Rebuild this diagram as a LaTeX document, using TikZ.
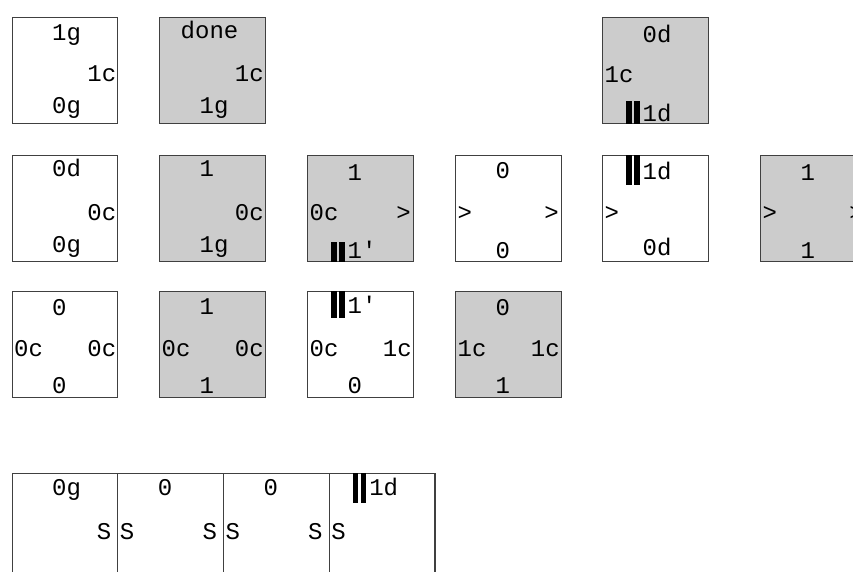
\documentclass[tikz,border=0pt]{standalone}
\usepackage{fontspec}
\setmonofont{Liberation Mono}
\begin{document}
\begin{tikzpicture}[x=1pt,y=-1pt,
  tile/.style={draw=black!75, line width=1.2pt, fill=white, minimum width=105.7pt, minimum height=105.7pt, inner sep=0pt, anchor=north west},
  gtile/.style={tile, fill=black!20},
  tall/.style={minimum height=130pt},
  lab/.style={font=\ttfamily\fontsize{24}{24}\selectfont, inner sep=0pt, text=black},
  barfill/.style={fill=black}]
\useasboundingbox (0,0) rectangle (853,572);
% row 1
\node[tile]  (r1a) at (11.5,17) {};
\node[gtile] (r1b) at (159,17) {};
\node[gtile] (r1c) at (602,17) {};
% row 2
\node[tile]  (r2a) at (11.5,155) {};
\node[gtile] (r2b) at (159,155) {};
\node[gtile] (r2c) at (307,155) {};
\node[tile]  (r2d) at (455,155) {};
\node[tile]  (r2e) at (602,155) {};
\node[gtile] (r2f) at (760,155) {};
% row 3
\node[tile]  (r3a) at (11.5,291) {};
\node[gtile] (r3b) at (159,291) {};
\node[tile]  (r3c) at (307,291) {};
\node[gtile] (r3d) at (455,291) {};
% row 4
\node[tile,tall] (r4a) at (11.5,473) {};
\node[tile,tall] (r4b) at (117.2,473) {};
\node[tile,tall] (r4c) at (222.9,473) {};
\node[tile,tall] (r4d) at (328.6,473) {};

% ---- labels row 1
\node[lab,anchor=base west] (r1at) at ([shift={(40.5,24)}]r1a.north west) {1g};
\node[lab,anchor=base east] (r1ar) at ([shift={(-2,65)}]r1a.north east) {1c};
\node[lab,anchor=base west] (r1ab) at ([shift={(40.5,97)}]r1a.north west) {0g};
\node[lab,anchor=base west] (r1bt) at ([shift={(21.5,22)}]r1b.north west) {done};
\node[lab,anchor=base east] (r1br) at ([shift={(-2,65)}]r1b.north east) {1c};
\node[lab,anchor=base west] (r1bb) at ([shift={(40.5,97)}]r1b.north west) {1g};
\node[lab,anchor=base west] (r1ct) at ([shift={(40.5,25.5)}]r1c.north west) {0d};
\node[lab,anchor=base west] (r1cl) at ([shift={(2.5,65.5)}]r1c.north west) {1c};
\node[lab,anchor=base west] (r1cb) at ([shift={(40.5,104.5)}]r1c.north west) {1d};
\fill[barfill] ([shift={(24,0)}]r1c.south west) rectangle ([shift={(29.5,-23)}]r1c.south west);
\fill[barfill] ([shift={(32,0)}]r1c.south west) rectangle ([shift={(37.5,-23)}]r1c.south west);

% ---- labels row 2
\node[lab,anchor=base west] (r2at) at ([shift={(40.5,22)}]r2a.north west) {0d};
\node[lab,anchor=base east] (r2ar) at ([shift={(-2,65)}]r2a.north east) {0c};
\node[lab,anchor=base west] (r2ab) at ([shift={(40.5,97)}]r2a.north west) {0g};
\node[lab,anchor=base west] (r2bt) at ([shift={(40.5,22)}]r2b.north west) {1};
\node[lab,anchor=base east] (r2br) at ([shift={(-2,65)}]r2b.north east) {0c};
\node[lab,anchor=base west] (r2bb) at ([shift={(40.5,97)}]r2b.north west) {1g};
\node[lab,anchor=base west] (r2ct) at ([shift={(40.5,25.5)}]r2c.north west) {1};
\node[lab,anchor=base west] (r2cl) at ([shift={(2.5,65)}]r2c.north west) {0c};
\node[lab,anchor=base east] (r2cr) at ([shift={(-3,65)}]r2c.north east) {>};
\node[lab,anchor=base west] (r2cb) at ([shift={(40.5,103)}]r2c.north west) {1'};
\fill[barfill] ([shift={(24,0)}]r2c.south west) rectangle ([shift={(29.5,-20)}]r2c.south west);
\fill[barfill] ([shift={(32,0)}]r2c.south west) rectangle ([shift={(37.5,-20)}]r2c.south west);
\node[lab,anchor=base west] (r2dt) at ([shift={(40.5,23.5)}]r2d.north west) {0};
\node[lab,anchor=base west] (r2dl) at ([shift={(2.5,65)}]r2d.north west) {>};
\node[lab,anchor=base east] (r2dr) at ([shift={(-3,65)}]r2d.north east) {>};
\node[lab,anchor=base west] (r2db) at ([shift={(40.5,103)}]r2d.north west) {0};
\node[lab,anchor=base west] (r2et) at ([shift={(40.5,24.5)}]r2e.north west) {1d};
\fill[barfill] ([shift={(24,0)}]r2e.north west) rectangle ([shift={(29.5,30)}]r2e.north west);
\fill[barfill] ([shift={(32,0)}]r2e.north west) rectangle ([shift={(37.5,30)}]r2e.north west);
\node[lab,anchor=base west] (r2el) at ([shift={(2.5,65)}]r2e.north west) {>};
\node[lab,anchor=base west] (r2eb) at ([shift={(40.5,100)}]r2e.north west) {0d};
\node[lab,anchor=base west] (r2ft) at ([shift={(40.5,26)}]r2f.north west) {1};
\node[lab,anchor=base west] (r2fl) at ([shift={(2.5,65)}]r2f.north west) {>};
\node[lab,anchor=base east] (r2fr) at ([shift={(-3,65)}]r2f.north east) {>};
\node[lab,anchor=base west] (r2fb) at ([shift={(40.5,103)}]r2f.north west) {1};

% ---- labels row 3
\node[lab,anchor=base west] (r3at) at ([shift={(40.5,24)}]r3a.north west) {0};
\node[lab,anchor=base west] (r3al) at ([shift={(2.5,65)}]r3a.north west) {0c};
\node[lab,anchor=base east] (r3ar) at ([shift={(-2,65)}]r3a.north east) {0c};
\node[lab,anchor=base west] (r3ab) at ([shift={(40.5,102)}]r3a.north west) {0};
\node[lab,anchor=base west] (r3bt) at ([shift={(40.5,23)}]r3b.north west) {1};
\node[lab,anchor=base west] (r3bl) at ([shift={(2.5,65)}]r3b.north west) {0c};
\node[lab,anchor=base east] (r3br) at ([shift={(-2,65)}]r3b.north east) {0c};
\node[lab,anchor=base west] (r3bb) at ([shift={(40.5,102)}]r3b.north west) {1};
\node[lab,anchor=base west] (r3ct) at ([shift={(40.5,22)}]r3c.north west) {1'};
\fill[barfill] ([shift={(24,0)}]r3c.north west) rectangle ([shift={(29.5,27)}]r3c.north west);
\fill[barfill] ([shift={(32,0)}]r3c.north west) rectangle ([shift={(37.5,27)}]r3c.north west);
\node[lab,anchor=base west] (r3cl) at ([shift={(2.5,65)}]r3c.north west) {0c};
\node[lab,anchor=base east] (r3cr) at ([shift={(-2,65)}]r3c.north east) {1c};
\node[lab,anchor=base west] (r3cb) at ([shift={(40.5,102)}]r3c.north west) {0};
\node[lab,anchor=base west] (r3dt) at ([shift={(40.5,24)}]r3d.north west) {0};
\node[lab,anchor=base west] (r3dl) at ([shift={(2.5,65)}]r3d.north west) {1c};
\node[lab,anchor=base east] (r3dr) at ([shift={(-2,65)}]r3d.north east) {1c};
\node[lab,anchor=base west] (r3db) at ([shift={(40.5,102)}]r3d.north west) {1};

% ---- labels row 4
\node[lab,anchor=base west] (r4at) at ([shift={(40.5,22.5)}]r4a.north west) {0g};
\node[lab,anchor=base east] (r4ar) at ([shift={(-7,66)}]r4a.north east) {S};
\node[lab,anchor=base west] (r4bt) at ([shift={(40.5,22.5)}]r4b.north west) {0};
\node[lab,anchor=base west] (r4bl) at ([shift={(2.5,66)}]r4b.north west) {S};
\node[lab,anchor=base east] (r4br) at ([shift={(-7,66)}]r4b.north east) {S};
\node[lab,anchor=base west] (r4ct) at ([shift={(40.5,22.5)}]r4c.north west) {0};
\node[lab,anchor=base west] (r4cl) at ([shift={(2.5,66)}]r4c.north west) {S};
\node[lab,anchor=base east] (r4cr) at ([shift={(-7,66)}]r4c.north east) {S};
\node[lab,anchor=base west] (r4dt) at ([shift={(40.5,22.5)}]r4d.north west) {1d};
\fill[barfill] ([shift={(24,0)}]r4d.north west) rectangle ([shift={(29.5,30)}]r4d.north west);
\fill[barfill] ([shift={(32,0)}]r4d.north west) rectangle ([shift={(37.5,30)}]r4d.north west);
\node[lab,anchor=base west] (r4dl) at ([shift={(2.5,66)}]r4d.north west) {S};
\end{tikzpicture}
\end{document}
